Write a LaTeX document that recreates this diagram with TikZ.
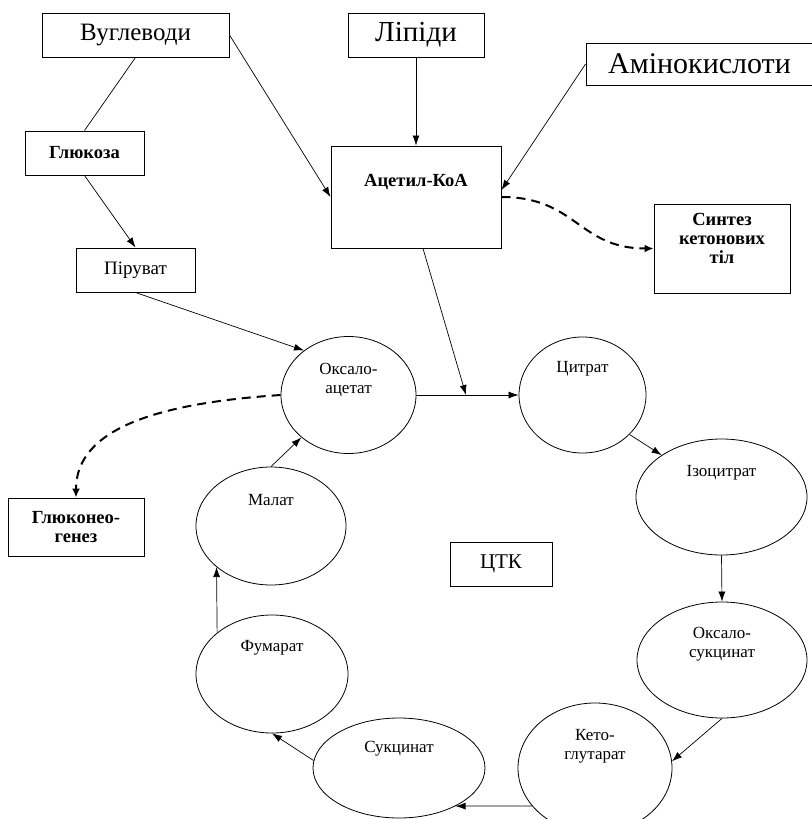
\documentclass[tikz,border=0pt]{standalone}
\usepackage{fontspec}
\setmainfont{Liberation Serif}
\usetikzlibrary{arrows.meta,shapes.geometric}

\newcommand\lift[2]{\raisebox{#1}[\height][\depth]{\begin{tabular}{@{}c@{}}#2\end{tabular}}}

\begin{document}
\begin{tikzpicture}[x=1pt, y=-1pt,
        box/.style={draw, line width=1pt, rectangle, inner sep=0pt, align=center},
        big/.style={font=\fontsize{#1}{30}\selectfont},
        bold/.style={font=\bfseries\fontsize{18.5}{19}\selectfont},
        oval/.style={draw, line width=0.8pt, ellipse, inner sep=0pt, align=center,
                     font=\fontsize{17}{19}\selectfont},
        flow/.style={line width=0.7pt, -{Latex[length=10pt,width=7pt]}},
        dashflow/.style={line width=2pt, dash pattern=on 9pt off 6pt, -{Latex[length=9pt,width=8pt]}}]
    \useasboundingbox (0,0) rectangle (811,819);
    \node[box, big=25, minimum width=187pt, minimum height=44pt] (vug) at (135.5,35) {Вуглеводи};
    \node[box, big=29, minimum width=136pt, minimum height=44pt] (lip) at (416,35) {Ліпіди};
    \node[box, big=30, minimum width=227pt, minimum height=42pt] (ami) at (699.5,64) {Амінокислоти};
    \node[box, bold, minimum width=119pt, minimum height=44pt] (glu) at (84.5,153) {Глюкоза};
    \node[box, bold, minimum width=170pt, minimum height=102pt] (acet) at (416,197) {\lift{14pt}{Ацетил-КоА}};
    \node[box, bold, minimum width=136pt, minimum height=89pt] (synth) at (722,248.5) {\lift{8pt}{Синтез\\кетонових\\тіл}};
    \node[box, big=19, minimum width=119pt, minimum height=44pt] (pir) at (135.5,270) {Піруват};
    \node[box, bold, minimum width=136pt, minimum height=58pt] (gln) at (76,527) {Глюконео-\\генез};
    \node[box, big=21, minimum width=102pt, minimum height=44pt] (ctk) at (501,564) {ЦТК};
    \node[oval, minimum width=135pt, minimum height=117pt] (oxa) at (348.5,395) {\lift{15pt}{Оксало-\\ацетат}};
    \node[oval, minimum width=127pt, minimum height=116pt] (cit) at (582.5,395) {\lift{26pt}{Цитрат}};
    \node[oval, minimum width=171pt, minimum height=116pt] (iso) at (721.5,497) {\lift{24pt}{Ізоцитрат}};
    \node[oval, minimum width=170pt, minimum height=116pt] (osu) at (722,660) {\lift{16pt}{Оксало-\\сукцинат}};
    \node[oval, minimum width=154pt, minimum height=130pt] (keto) at (595,768) {\lift{22pt}{Кето-\\глутарат}};
    \node[oval, minimum width=172pt, minimum height=100pt] (suc) at (399,768) {\lift{19pt}{Сукцинат}};
    \node[oval, minimum width=152pt, minimum height=118pt] (fum) at (272,674) {\lift{26pt}{Фумарат}};
    \node[oval, minimum width=150pt, minimum height=118pt] (mal) at (271,526) {\lift{24pt}{Малат}};
    \coordinate (join) at (466,395);

    \draw[line width=0.7pt] (vug.south) -- (glu.north);
    \draw[flow] (vug.east) -- (acet.west);
    \draw[flow] (lip.south) -- (acet.north);
    \draw[flow] (ami.west) -- ([yshift=7pt]acet.east);
    \draw[flow] (glu.south) -- (pir.north);
    \draw[dashflow] (acet.east) .. controls +(75,0) and +(-75,0) .. (synth.west);
    \draw[flow] ([xshift=7pt]acet.south) -- (join);
    \draw[flow] (pir.south) -- (oxa.135);
    \draw[flow] (oxa.east) -- (cit.west);
    \draw[dashflow] (oxa.west) .. controls +(-120,8) and +(0,-70) .. (gln.north);
    \draw[flow] (cit.-40) -- (iso.145);
    \draw[flow] (iso.south) -- (osu.north);
    \draw[flow] (osu.south) -- (keto.5);
    \draw[flow] (keto.211) -- (suc.326);
    \draw[flow] (suc.175) -- (fum.south);
    \draw[flow] (fum.143) -- (mal.217);
    \draw[flow] (mal.north) -- (oxa.222);
\end{tikzpicture}
\end{document}
